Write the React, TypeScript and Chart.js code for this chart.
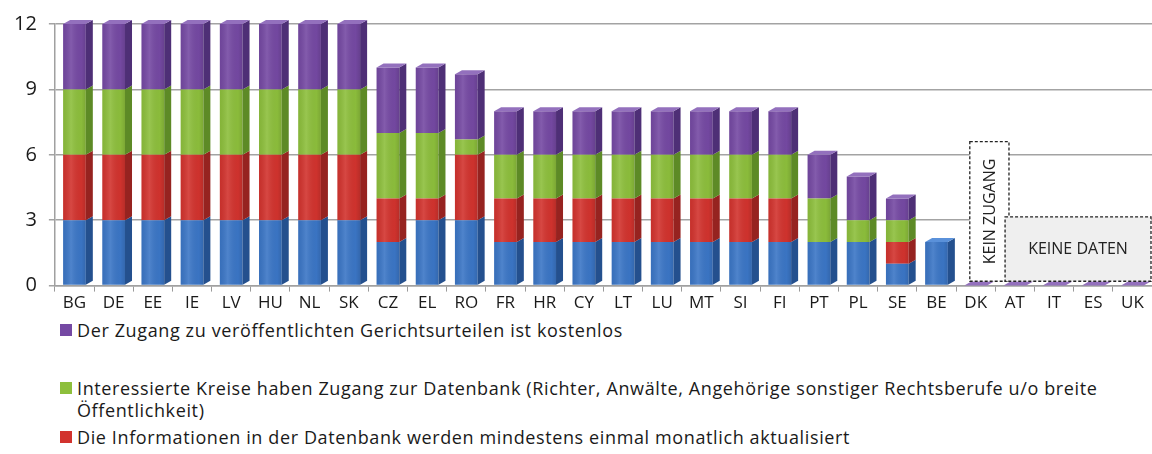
import React, { useEffect, useRef } from "react";
import { Chart, registerables } from "chart.js";

Chart.register(...registerables);

const categories = ["BG","DE","EE","IE","LV","HU","NL","SK","CZ","EL","RO","FR","HR","CY","LT","LU","MT","SI","FI","PT","PL","SE","BE","DK","AT","IT","ES","UK"];
const blueValues   = [3,3,3,3,3,3,3,3,2,3,3,2,2,2,2,2,2,2,2,2,2,1,2,0,0,0,0,0];
const redValues    = [3,3,3,3,3,3,3,3,2,1,3,2,2,2,2,2,2,2,2,0,0,1,0,0,0,0,0,0];
const greenValues  = [3,3,3,3,3,3,3,3,3,3,0.7,2,2,2,2,2,2,2,2,2,1,1,0,0,0,0,0,0];
const purpleValues = [3,3,3,3,3,3,3,3,3,3,3,2,2,2,2,2,2,2,2,2,2,1,0,0,0,0,0,0];
const yTicks = [0,3,6,9,12];

const purpleLabel = "Der Zugang zu veröffentlichten Gerichtsurteilen ist kostenlos";
const greenLabel = "Interessierte Kreise haben Zugang zur Datenbank (Richter, Anwälte, Angehörige sonstiger Rechtsberufe u/o breite Öffentlichkeit)";
const redLabel = "Die Informationen in der Datenbank werden mindestens einmal monatlich aktualisiert";

const noAccessText = "KEIN ZUGANG";
const noDataText = "KEINE DATEN";

const FONT = "'Open Sans', 'DejaVu Sans', sans-serif";

const seriesStyle = [
  { front: "#3b76c6", side: "#24508e", top: "#5a91da" },
  { front: "#d2332e", side: "#962320", top: "#e05a55" },
  { front: "#8dbf3c", side: "#5d8a26", top: "#a8d55e" },
  { front: "#7549a3", side: "#4e2f76", top: "#9370bd" },
];

const bar3d = {
  id: "bar3d",
  afterDatasetsDraw(chart: any) {
    const ctx = chart.ctx;
    const dx = 7, dy = 4;
    const n = chart.data.labels.length;
    const metas = chart.data.datasets.map((_: any, i: number) => chart.getDatasetMeta(i));
    ctx.save();
    for (let j = 0; j < n; j++) {
      let topIdx = -1;
      metas.forEach((m: any, i: number) => {
        const v = chart.data.datasets[i].data[j];
        if (v > 0) topIdx = i;
      });
      metas.forEach((m: any, i: number) => {
        const v = chart.data.datasets[i].data[j];
        const el = m.data[j];
        if (!el) return;
        const w = el.width;
        const l = el.x - w / 2, r = el.x + w / 2;
        const y = el.y, b = el.base;
        if (v > 0) {
          const g = ctx.createLinearGradient(l, 0, r, 0);
          g.addColorStop(0, "rgba(0,0,0,0.06)");
          g.addColorStop(0.35, "rgba(255,255,255,0.10)");
          g.addColorStop(0.8, "rgba(0,0,0,0.02)");
          g.addColorStop(1, "rgba(0,0,0,0.12)");
          ctx.fillStyle = g;
          ctx.fillRect(l, y, w, b - y);
          ctx.fillStyle = seriesStyle[i].side;
          ctx.beginPath();
          ctx.moveTo(r, y); ctx.lineTo(r + dx, y - dy); ctx.lineTo(r + dx, b - dy); ctx.lineTo(r, b);
          ctx.closePath(); ctx.fill();
          if (i === topIdx) {
            ctx.fillStyle = seriesStyle[i].top;
            ctx.beginPath();
            ctx.moveTo(l, y); ctx.lineTo(l + dx, y - dy); ctx.lineTo(r + dx, y - dy); ctx.lineTo(r, y);
            ctx.closePath(); ctx.fill();
          }
        }
        if (topIdx === -1 && i === metas.length - 1) {
          ctx.fillStyle = seriesStyle[i].top;
          ctx.beginPath();
          ctx.moveTo(l, b); ctx.lineTo(l + dx, b - dy); ctx.lineTo(r + dx, b - dy); ctx.lineTo(r, b);
          ctx.closePath(); ctx.fill();
        }
      });
    }
    ctx.restore();
  },
};

const notes = {
  id: "notes",
  afterDraw(chart: any) {
    const { ctx, scales } = chart;
    const x = scales.x, y = scales.y;
    ctx.save();
    ctx.setLineDash([3, 2]);
    ctx.strokeStyle = "#222";
    ctx.lineWidth = 1.3;
    // KEIN ZUGANG
    const ax0 = x.getPixelForValue(22.85), ax1 = x.getPixelForValue(23.85);
    const ay0 = y.getPixelForValue(6.6), ay1 = y.getPixelForValue(0.2);
    ctx.fillStyle = "#ffffff";
    ctx.fillRect(ax0, ay0, ax1 - ax0, ay1 - ay0);
    ctx.strokeRect(ax0, ay0, ax1 - ax0, ay1 - ay0);
    // KEINE DATEN
    const bx0 = x.getPixelForValue(23.75), bx1 = Math.min(x.getPixelForValue(27.54), chart.width - 1);
    const by0 = y.getPixelForValue(3.15), by1 = y.getPixelForValue(0.2);
    ctx.fillStyle = "#efefef";
    ctx.fillRect(bx0, by0, bx1 - bx0, by1 - by0);
    ctx.strokeRect(bx0, by0, bx1 - bx0, by1 - by0);
    ctx.setLineDash([]);
    ctx.fillStyle = "#222";
    ctx.font = `500 16px ${FONT}`;
    ctx.textAlign = "center";
    ctx.textBaseline = "middle";
    ctx.fillText(noDataText, (bx0 + bx1) / 2, (by0 + by1) / 2);
    ctx.translate((ax0 + ax1) / 2, (ay0 + ay1) / 2);
    ctx.rotate(-Math.PI / 2);
    ctx.fillText(noAccessText, 0, 1);
    ctx.restore();
  },
};

const legendItems = [
  { label: purpleLabel, color: seriesStyle[3].front, gap: 0 },
  { label: greenLabel, color: seriesStyle[2].front, gap: 36 },
  { label: redLabel, color: seriesStyle[1].front, gap: 5 },
];

export default function App() {
  const ref = useRef<HTMLCanvasElement>(null);
  useEffect(() => {
    const chart = new Chart(ref.current!, {
      type: "bar",
      data: {
        labels: categories,
        datasets: [
          { label: "blue", data: blueValues, backgroundColor: seriesStyle[0].front },
          { label: redLabel, data: redValues, backgroundColor: seriesStyle[1].front },
          { label: greenLabel, data: greenValues, backgroundColor: seriesStyle[2].front },
          { label: purpleLabel, data: purpleValues, backgroundColor: seriesStyle[3].front },
        ],
      },
      options: {
        animation: false,
        responsive: true,
        maintainAspectRatio: false,
        layout: { padding: { top: 11, left: 2, right: 0, bottom: 0 } },
        datasets: { bar: { categoryPercentage: 1, barPercentage: 0.58, borderWidth: 0 } },
        plugins: { legend: { display: false }, tooltip: { enabled: false } },
        scales: {
          x: {
            stacked: true,
            grid: { display: true, drawOnChartArea: false, drawTicks: true, tickLength: 6, offset: true, color: "#9a9a9a" },
            border: { display: true, color: "#a0a0a0", width: 1.5 },
            ticks: { color: "#1a1a1a", font: { family: FONT, size: 17, weight: "500" }, padding: 1, maxRotation: 0, autoSkip: false },
          },
          y: {
            stacked: true,
            min: 0,
            max: 12,
            afterBuildTicks: (s: any) => { s.ticks = yTicks.map((v) => ({ value: v })); },
            grid: { color: "#a3a3a3", lineWidth: 1.5, tickLength: 6 },
            border: { display: true, color: "#a0a0a0", width: 1.5 },
            ticks: { color: "#1a1a1a", font: { family: FONT, size: 20 }, padding: 12 },
          },
        },
      },
      plugins: [bar3d, notes],
    });
    return () => chart.destroy();
  }, []);

  return (
    <div style={{ position: "fixed", left: 0, top: 0, width: 1152, height: 454, background: "#fff", overflow: "hidden" }}>
      <div style={{ position: "relative", width: 1152, height: 314 }}>
        <canvas ref={ref} />
      </div>
      <div style={{ paddingLeft: 60, paddingTop: 5, fontFamily: FONT, fontSize: 18, letterSpacing: "0.62px", lineHeight: "22px", color: "#1a1a1a" }}>
        {legendItems.map((it, i) => (
          <div key={i} style={{ display: "flex", alignItems: "flex-start", marginTop: it.gap, maxWidth: 1085 }}>
            <span style={{ display: "inline-block", width: 12, height: 12, background: it.color, marginTop: 5, marginRight: 5, flex: "none" }} />
            <span>{it.label}</span>
          </div>
        ))}
      </div>
    </div>
  );
}
